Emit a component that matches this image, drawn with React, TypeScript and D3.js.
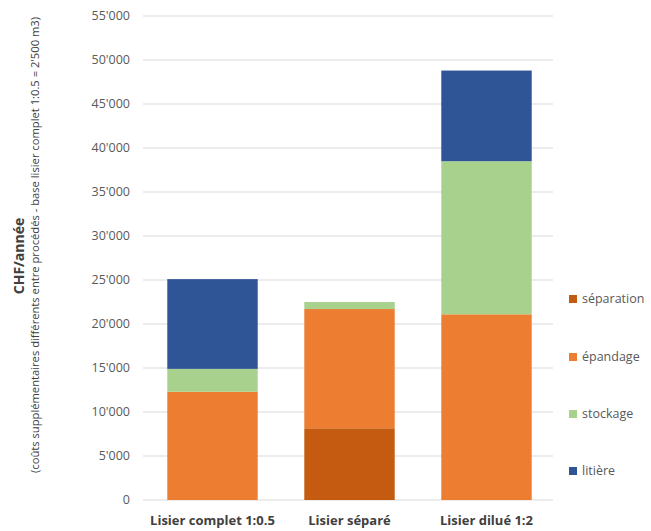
import { useEffect, useRef } from "react";
import * as d3 from "d3";

const categories = ["Lisier complet 1:0.5", "Lisier séparé", "Lisier dilué 1:2"];
const seriesNames = ["séparation", "épandage", "stockage", "litière"];
const seriesColors = ["#C55A11", "#ED7D31", "#A9D18E", "#2F5597"];

// values per series, in category order
const separation = [0, 8150, 0];
const epandage = [12300, 13550, 21100];
const stockage = [2600, 800, 17400];
const litiere = [10200, 0, 10300];

const yTicks = [0, 5000, 10000, 15000, 20000, 25000, 30000, 35000, 40000, 45000, 50000, 55000];

const W = 651;
const H = 531;
const FONT = "'Open Sans', sans-serif";

export default function App() {
  const svgRef = useRef<SVGSVGElement>(null);

  useEffect(() => {
    if (!svgRef.current) return;
    const svg = d3.select(svgRef.current);
    svg.selectAll("*").remove();

    const table = categories.map((c, i) => ({
      cat: c,
      "séparation": separation[i],
      "épandage": epandage[i],
      stockage: stockage[i],
      "litière": litiere[i],
    }));

    const stacked = d3.stack<any>().keys(seriesNames)(table);

    const x = d3
      .scaleBand()
      .domain(categories)
      .range([144, 555])
      .paddingInner(0.34)
      .paddingOuter(0.17);

    const y = d3.scaleLinear().domain([0, 55000]).range([500, 16]);

    const fmt = (v: number) =>
      v === 0 ? "0" : d3.format(",")(v).replace(/,/g, "'");

    // grid
    svg
      .append("g")
      .selectAll("line")
      .data(yTicks)
      .join("line")
      .attr("x1", 143)
      .attr("x2", 553)
      .attr("y1", (d) => y(d))
      .attr("y2", (d) => y(d))
      .attr("stroke", "#D9D9D9")
      .attr("stroke-width", 1);

    // tick labels
    svg
      .append("g")
      .selectAll("text")
      .data(yTicks)
      .join("text")
      .attr("x", 130)
      .attr("y", (d) => y(d))
      .attr("dy", "0.35em")
      .attr("text-anchor", "end")
      .attr("fill", "#595959")
      .attr("font-size", "12.5px")
      .attr("font-family", FONT)
      .text(fmt);

    // bars
    svg
      .append("g")
      .selectAll("g")
      .data(stacked)
      .join("g")
      .attr("fill", (_, i) => seriesColors[i])
      .selectAll("rect")
      .data((s) => s)
      .join("rect")
      .attr("x", (d: any) => x(d.data.cat)!)
      .attr("width", x.bandwidth())
      .attr("y", (d) => y(d[1]))
      .attr("height", (d) => y(d[0]) - y(d[1]));

    // category labels
    svg
      .append("g")
      .selectAll("text")
      .data(categories)
      .join("text")
      .attr("x", (d) => x(d)! + x.bandwidth() / 2)
      .attr("y", 520)
      .attr("dy", "0.35em")
      .attr("text-anchor", "middle")
      .attr("fill", "#404040")
      .attr("font-size", "13px")
      .attr("font-weight", "bold")
      .attr("font-family", FONT)
      .text((d) => d);

    // y title
    svg
      .append("text")
      .attr("transform", "translate(19,256) rotate(-90)")
      .attr("dy", "0.35em")
      .attr("text-anchor", "middle")
      .attr("fill", "#404040")
      .attr("font-size", "14px")
      .attr("font-weight", "bold")
      .attr("font-family", FONT)
      .text("CHF/année");

    svg
      .append("text")
      .attr("transform", "translate(35,245) rotate(-90)")
      .attr("dy", "0.35em")
      .attr("text-anchor", "middle")
      .attr("fill", "#404040")
      .attr("font-size", "10px")
      .attr("font-family", FONT)
      .attr("textLength", 456)
      .attr("lengthAdjust", "spacingAndGlyphs")
      .text("(coûts supplémentaires différents entre procédés - base lisier complet 1:0.5 = 2'500 m3)");

    // legend
    const legendY = [299, 357, 414, 471];
    const lg = svg
      .append("g")
      .selectAll("g")
      .data(seriesNames)
      .join("g")
      .attr("transform", (_, i) => `translate(569,${legendY[i]})`);
    lg.append("rect")
      .attr("x", 0)
      .attr("y", -4)
      .attr("width", 8)
      .attr("height", 8)
      .attr("fill", (_, i) => seriesColors[i]);
    lg.append("text")
      .attr("x", 13)
      .attr("dy", "0.35em")
      .attr("fill", "#595959")
      .attr("font-size", "12.5px")
      .attr("font-family", FONT)
      .text((d) => d);
  }, []);

  return (
    <svg
      ref={svgRef}
      width={W}
      height={H}
      style={{ position: "absolute", left: 0, top: 0, background: "#fff" }}
    />
  );
}
